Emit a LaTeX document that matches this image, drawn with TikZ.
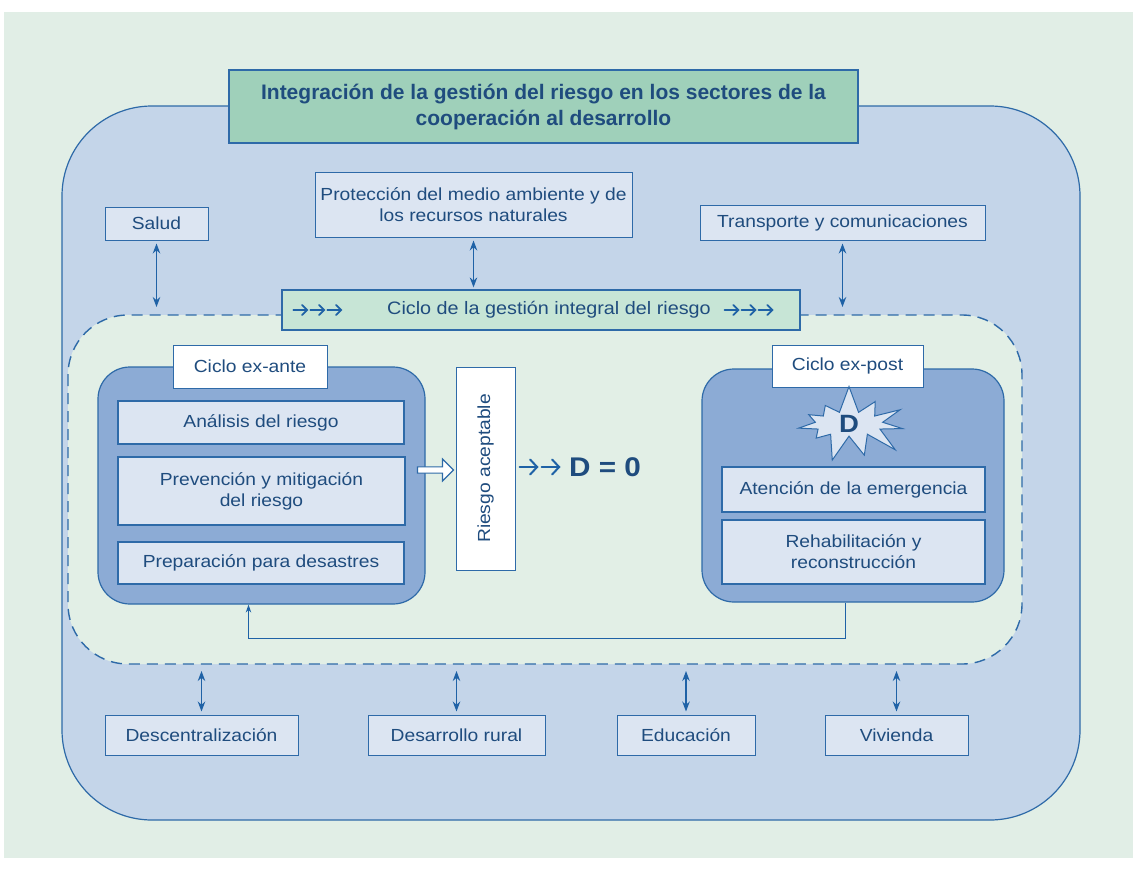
\documentclass[tikz,border=0pt]{standalone}
\usepackage{fontspec}
\setmainfont{Liberation Sans}[FakeStretch=1.1]
\newfontfamily\titlefont{Liberation Sans}
\usetikzlibrary{shapes.symbols,shapes.arrows,arrows.meta}
\definecolor{pagebg}{HTML}{E1EEE6}
\definecolor{outerfill}{HTML}{C4D5E9}
\definecolor{innerfill}{HTML}{E2EFE6}
\definecolor{edgeblue}{HTML}{2E6AA8}
\definecolor{arrowblue}{HTML}{1F62A6}
\definecolor{textblue}{HTML}{1F4C7E}
\definecolor{titlefill}{HTML}{9FD0BA}
\definecolor{bannerfill}{HTML}{C7E5D6}
\definecolor{panelfill}{HTML}{8CABD5}
\definecolor{boxfill}{HTML}{DCE5F2}
\tikzset{
  sector/.style={draw=edgeblue, line width=1pt, fill=boxfill, text=textblue,
    font=\fontsize{17.5}{21}\selectfont, align=center, inner sep=0pt},
  stagebox/.style={draw=edgeblue, line width=1.2pt, fill=boxfill, text=textblue,
    font=\fontsize{17.5}{21}\selectfont, align=center, inner sep=0pt},
  tagbox/.style={draw=edgeblue, line width=1pt, fill=white, text=textblue,
    font=\fontsize{17.5}{21}\selectfont, align=center, inner sep=0pt},
  panel/.style={draw=edgeblue, line width=1.2pt, fill=panelfill, rounded corners=32pt},
  dbl/.style={arrowblue, line width=1.2pt, {Stealth[length=10pt,width=7.5pt]}-{Stealth[length=10pt,width=7.5pt]}},
  fback/.style={arrowblue, line width=1pt, -{Stealth[length=8pt,width=5.5pt]}},
  chev/.style={arrowblue, line width=1.8pt, line cap=round,
    -{Straight Barb[length=5pt,width=10pt,line cap=round]}},
  bigchev/.style={arrowblue, line width=2pt, line cap=round,
    -{Straight Barb[length=7pt,width=15pt,line cap=round]}}
}
\begin{document}
\begin{tikzpicture}[x=1pt,y=-1pt]
\useasboundingbox (0,0) rectangle (1133,870);
\fill[white] (0,0) rectangle (1133,870);
\fill[pagebg] (4,12) rectangle (1133,858);

% outer region of the development sectors
\draw[edgeblue, line width=1.2pt, fill=outerfill, rounded corners=90pt]
  (62,106) rectangle (1080,820);

% dashed region of the integral risk cycle
\draw[edgeblue, line width=1.4pt, fill=innerfill, dash pattern=on 11pt off 7pt, rounded corners=60pt]
  (68,315) rectangle (1022,664);
\coordinate (cyctop) at (0,307);
\coordinate (cycbot) at (0,671);

% title
\node[draw=edgeblue, line width=1.2pt, fill=titlefill, text=textblue, align=center,
  minimum width=629pt, minimum height=73pt, inner sep=0pt,
  font=\titlefont\bfseries\fontsize{21}{26}\selectfont] (title) at (543.5,106.5)
  {Integración de la gestión del riesgo en los sectores de la\\cooperación al desarrollo};

% upper sectors
\node[sector, minimum width=103pt, minimum height=33pt] (salud) at (156.5,223.5) {Salud};
\node[sector, minimum width=317pt, minimum height=65pt] (proteccion) at (473.5,204.5)
  {Protección del medio ambiente y de\\los recursos naturales};
\node[sector, minimum width=285pt, minimum height=35pt] (transporte) at (842.5,222.5)
  {Transporte y comunicaciones};

% banner of the cycle, with its rows of arrows
\node[draw=edgeblue, line width=1.2pt, fill=bannerfill, text=textblue,
  minimum width=518pt, minimum height=40pt, inner sep=0pt,
  font=\fontsize{18}{20}\selectfont] (banner) at (541,310)
  {\hspace*{16pt}Ciclo de la gestión integral del riesgo};
\path (banner.west) ++(12,0) coordinate (bl0);
\path (banner.east) ++(-76,0) coordinate (br0);
\foreach \i in {0,1,2} {
  \draw[chev] ([shift={(\i*17,0)}]bl0) -- ++(15,0);
  \draw[chev] ([shift={(\i*17,0)}]br0) -- ++(15,0);
}

% lower sectors
\node[sector, minimum width=193pt, minimum height=40pt] (descen) at (201.5,735) {Descentralización};
\node[sector, minimum width=177pt, minimum height=40pt] (rural) at (456.5,735) {Desarrollo rural};
\node[sector, minimum width=138pt, minimum height=40pt] (educ) at (686,735) {Educación};
\node[sector, minimum width=143pt, minimum height=40pt] (vivienda) at (896.5,735) {Vivienda};

% links between sectors and the cycle
\draw[dbl] ([yshift=-3pt]salud.south) -- (salud.south |- cyctop);
\draw[dbl] ([yshift=-3pt]proteccion.south) -- ([yshift=2pt]proteccion.south |- banner.north);
\draw[dbl] ([yshift=-3pt]transporte.south) -- (transporte.south |- cyctop);
\draw[dbl] (descen.north |- cycbot) -- ([yshift=3pt]descen.north);
\draw[dbl] (rural.north |- cycbot) -- ([yshift=3pt]rural.north);
\draw[dbl] (educ.north |- cycbot) -- ([yshift=3pt]educ.north);
\draw[dbl] (vivienda.north |- cycbot) -- ([yshift=3pt]vivienda.north);

% ex-ante cycle
\node[panel, minimum width=327pt, minimum height=237pt] (exante) at (261.5,485.5) {};
\node[tagbox, minimum width=154pt, minimum height=43pt] (exantetag) at (250,366.5) {Ciclo ex-ante};
\node[stagebox, minimum width=286pt, minimum height=43pt] (analisis) at (261,422.5) {Análisis del riesgo};
\node[stagebox, minimum width=287pt, minimum height=68pt] (prevencion) at (261.5,491)
  {Prevención y mitigación\\del riesgo};
\node[stagebox, minimum width=286pt, minimum height=42pt] (preparacion) at (261,563) {Preparación para desastres};

% acceptable risk
\node[single arrow, draw=edgeblue, line width=1.2pt, fill=white, minimum height=36pt,
  minimum width=22pt, single arrow head extend=4pt, single arrow head indent=0pt,
  inner sep=1pt] (hollow) at (434,470) {};
\node[tagbox, minimum width=59pt, minimum height=203pt] (aceptable) at (485.5,468.5)
  {\rotatebox{90}{Riesgo aceptable}};
\node[text=textblue, font=\bfseries\fontsize{27}{27}\selectfont, inner sep=0pt] (dzero) at (605,467) {D = 0};
\path (aceptable.east |- dzero) ++(4,0) coordinate (dd0);
\foreach \i in {0,1} {
  \draw[bigchev] ([shift={(\i*22,0)}]dd0) -- ++(19,0);
}

% ex-post cycle
\node[panel, minimum width=302pt, minimum height=233pt] (expost) at (853,485.5) {};
\node[tagbox, minimum width=151pt, minimum height=42pt] (exposttag) at (847.5,366) {Ciclo ex-post};
\node[starburst, starburst points=11, starburst point height=28pt, random starburst=7,
  draw=edgeblue, line width=1pt, fill=boxfill, text=textblue,
  font=\bfseries\fontsize{25}{25}\selectfont, minimum width=124pt, minimum height=74pt,
  inner sep=0pt] (burst) at (849,424) {D};
\node[stagebox, minimum width=263pt, minimum height=45pt] (atencion) at (853.5,489.5) {Atención de la emergencia};
\node[stagebox, minimum width=263pt, minimum height=64pt] (rehab) at (853.5,552)
  {Rehabilitación y\\reconstrucción};

% return path from ex-post back to ex-ante
\coordinate (fb) at (0,638);
\draw[fback] ([xshift=-8pt]expost.south) -- ([xshift=-8pt]expost.south |- fb)
  -| ([xshift=-13pt]exante.south);
\end{tikzpicture}
\end{document}
